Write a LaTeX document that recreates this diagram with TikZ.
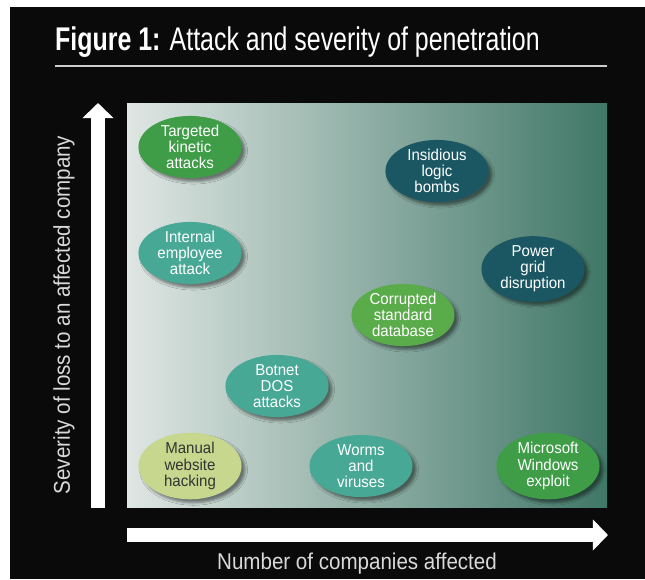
\documentclass[tikz,border=0pt]{standalone}
\usepackage{fontspec}
\setmainfont{Liberation Sans}
\newfontfamily\narrowfont{Liberation Sans}[FakeStretch=0.76]
\newfontfamily\labelfont{Liberation Sans}[FakeStretch=0.9]
\newfontfamily\threatfont{Liberation Sans}[FakeStretch=0.95]

\usetikzlibrary{shapes.geometric,shadows.blur,arrows.meta}

\definecolor{panelblack}{HTML}{0A0A0A}
\definecolor{plotleft}{HTML}{DFE6E3}
\definecolor{plotmid}{HTML}{84A397}
\definecolor{plotright}{HTML}{407767}
\definecolor{kinetic}{HTML}{3F9D48}
\definecolor{brightgreen}{HTML}{5AAB4A}
\definecolor{insider}{HTML}{48A896}
\definecolor{deepteal}{HTML}{1B5763}
\definecolor{pale}{HTML}{C8D78E}
\definecolor{labelgray}{HTML}{D9D9D9}

\tikzstyle{threat} = [ellipse, minimum width=88pt, minimum height=53pt, inner sep=0pt,
    align=center, text=white, font=\threatfont\fontsize{13.5}{13.8}\selectfont,
    blur shadow={shadow xshift=3pt, shadow yshift=-3pt, shadow opacity=45}]
\tikzstyle{axis} = [white, line width=12pt, -{Triangle[length=13pt,width=26pt]}]
\tikzstyle{axislabel} = [text=labelgray, font=\labelfont\fontsize{19.5}{22}\selectfont]

\begin{document}
\begin{tikzpicture}[x=0.03cm, y=-0.03cm]
\useasboundingbox (0,0) rectangle (645,579);
\fill[white] (0,0) rectangle (645,579);
\fill[panelblack] (10,7) rectangle (645,579);

% heading and rule
\node[anchor=base west, text=white, inner sep=0pt,
      font=\narrowfont\fontsize{28}{30}\selectfont] (title) at (55,50)
    {\textbf{Figure 1:} Attack and severity of penetration};
\draw[white!80!black, line width=1.6pt] (55,66) -- (607,66);

% plot area
\shade[left color=plotleft, middle color=plotmid, right color=plotright]
    (127,103) rectangle (607,507);

% axes
\coordinate (ybottom) at (98,508);
\coordinate (ytop) at (98,103);
\coordinate (xleft) at (127,535);
\coordinate (xright) at (608,535);
\draw[axis] (ybottom) -- (ytop);
\draw[axis] (xleft) -- (xright);
\node[axislabel, rotate=90] (ylabel) at (64,315) {Severity of loss to an affected company};
\node[axislabel] (xlabel) at (357,564) {Number of companies affected};

% attacks
\node[threat, fill=kinetic] (targeted) at (190,147) {Targeted\\kinetic\\attacks};
\node[threat, fill=insider] (internal) at (190,253) {Internal\\employee\\attack};
\node[threat, fill=deepteal] (logic) at (437,171) {Insidious\\logic\\bombs};
\node[threat, fill=deepteal] (grid) at (533,269) {Power\\grid\\disruption};
\node[threat, fill=brightgreen] (database) at (403,315) {Corrupted\\standard\\database};
\node[threat, fill=insider] (botnet) at (277,386) {Botnet\\DOS\\attacks};
\node[threat, fill=pale, text=black!80] (manual) at (190,466) {Manual\\website\\hacking};
\node[threat, fill=insider] (worms) at (361,466) {Worms\\and\\viruses};
\node[threat, fill=kinetic] (windows) at (548,466) {Microsoft\\Windows\\exploit};
\end{tikzpicture}
\end{document}
